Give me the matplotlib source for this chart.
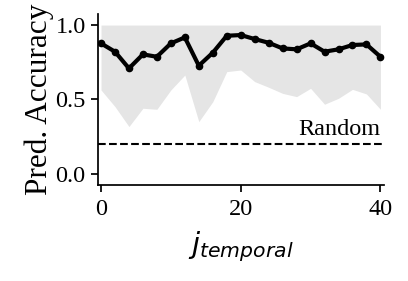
import numpy as np
import matplotlib.pyplot as plt

plt.rcParams['font.family'] = 'Liberation Serif'
plt.rcParams['mathtext.fontset'] = 'dejavusans'

# 예측 정확도 (j_temporal 별)
j_vals = [0, 2, 4, 6, 8, 10, 12, 14, 16, 18, 20, 22, 24, 26, 28, 30, 32, 34, 36, 38, 40]
acc_mean = [0.877, 0.821, 0.709, 0.803, 0.787, 0.877, 0.917, 0.727, 0.814, 0.928, 0.933,
            0.906, 0.881, 0.843, 0.837, 0.877, 0.821, 0.837, 0.866, 0.870, 0.787]
acc_low = [0.564, 0.452, 0.318, 0.441, 0.434, 0.564, 0.664, 0.351, 0.485, 0.687, 0.698,
           0.620, 0.582, 0.541, 0.519, 0.575, 0.468, 0.508, 0.568, 0.537, 0.434]
acc_high = [1.0] * 21
random_level = 0.2

fig = plt.figure(figsize=(4.08, 2.81), dpi=100)
ax = fig.add_axes([0.239, 0.342, 0.702, 0.608])

ax.fill_between(j_vals, acc_low, acc_high, color='#e5e5e5', linewidth=0)
ax.plot(j_vals, acc_mean, color='k', linewidth=3, marker='o', markersize=4.5)
ax.axhline(random_level, color='k', linestyle='--', linewidth=1.5)
ax.text(40, random_level + 0.03, 'Random', ha='right', va='bottom', fontsize=17.5)

ax.set_xlim(-0.5, 40.5)
ax.set_ylim(-0.074, 1.074)
ax.set_xticks([0, 20, 40])
ax.set_yticks([0.0, 0.5, 1.0])
ax.set_yticklabels(['0.0', '0.5', '1.0'])
ax.tick_params(labelsize=17.5, length=5, width=1.25)
ax.tick_params(axis='x', pad=5)

for s in ['top', 'right']:
    ax.spines[s].set_visible(False)
for s in ['left', 'bottom']:
    ax.spines[s].set_linewidth(1.25)

ax.set_ylabel('Pred. Accuracy', fontsize=22.5, labelpad=1)
ax.set_xlabel('$j_{temporal}$', fontsize=21, labelpad=7)

fig.savefig('out.png', dpi=100)
